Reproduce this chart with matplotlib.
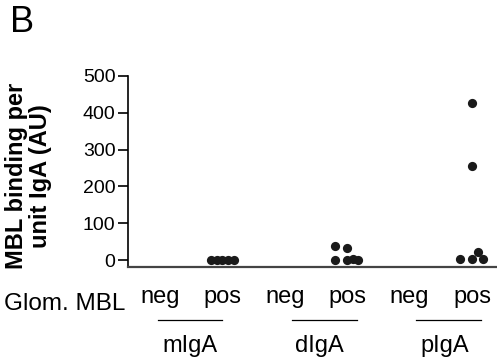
import numpy as np
import matplotlib.pyplot as plt
import matplotlib.transforms as mtransforms

plt.rcParams['font.family'] = ['Liberation Sans', 'DejaVu Sans']

# categories along x (neg / pos for each IgA form)
cat_labels = ["neg", "pos", "neg", "pos", "neg", "pos"]
groups = ["mIgA", "dIgA", "pIgA"]
# group underline extents and label centers (in category units)
group_line_start = [-0.03, 2.11, 4.11]
group_line_end = [1.0, 3.15, 5.15]
group_label_x = [0.48, 2.56, 4.56]

# points: category index, horizontal jitter, value
pt_cat = [1, 1, 1, 1, 1,
          3, 3, 3, 3, 3, 3,
          5, 5, 5, 5, 5, 5]
pt_jit = [-0.18, -0.09, 0.0, 0.09, 0.18,
          -0.19, 0.0, -0.19, 0.0, 0.09, 0.18,
          0.0, 0.0, -0.19, 0.0, 0.09, 0.17]
pt_val = [1, 1, 1, 1, 1,
          38, 32, 1, 1, 3, 1,
          426, 255, 2, 2, 23, 2]

fig = plt.figure(figsize=(4.97, 3.61), dpi=100)
ax = fig.add_axes([0.2575, 0.260, 0.7425, 0.5295])

xs = np.array(pt_cat) + np.array(pt_jit)
ax.scatter(xs, pt_val, s=44, color='#1a1a1a', zorder=3, linewidths=0, clip_on=False)

ax.set_xlim(-0.51, 5.4)
ax.set_ylim(-19, 500)
ax.set_yticks([0, 100, 200, 300, 400, 500])
ax.tick_params(axis='y', length=7, width=1.2, labelsize=14, pad=2)
ax.set_xticks([])

for s in ['top', 'right']:
    ax.spines[s].set_visible(False)
ax.spines['left'].set_linewidth(1.2)
ax.spines['bottom'].set_linewidth(1.6)
ax.spines['bottom'].set_color('#444444')

# y axis title, placed by hand like the original
fig.text(0.057, 0.512, "MBL binding per\nunit IgA (AU)", fontsize=17, fontweight='bold',
         rotation=90, ha='center', va='center', linespacing=1.05, multialignment='center')

trans = mtransforms.blended_transform_factory(ax.transData, ax.transAxes)
# neg / pos labels
for i in range(len(cat_labels)):
    ax.text(i, -0.188, cat_labels[i], fontsize=17, ha='center', va='baseline',
            transform=trans)
# group underlines and names
for i in range(len(groups)):
    ax.plot([group_line_start[i], group_line_end[i]], [-0.277, -0.277], color='black',
            lw=0.9, transform=trans, clip_on=False)
    ax.text(group_label_x[i], -0.445, groups[i], fontsize=17, ha='center', va='baseline',
            transform=trans)

fig.text(0.008, 0.1413, "Glom. MBL", fontsize=17.5, ha='left', va='baseline')
fig.text(0.020, 0.939, "B", fontsize=26, ha='left', va='center')

fig.savefig("out.png", dpi=100)
